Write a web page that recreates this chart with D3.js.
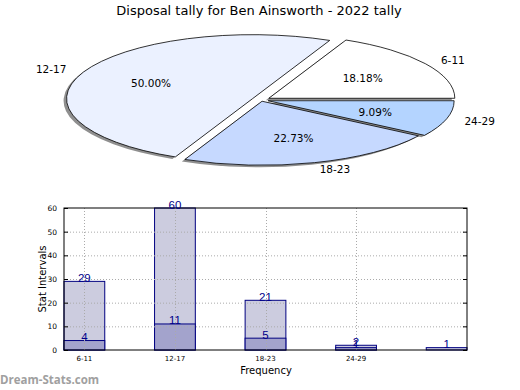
<!DOCTYPE html>
<html><head><meta charset="utf-8">
<script src="https://cdn.jsdelivr.net/npm/d3@7"></script>
<style>body{margin:0;background:#fff}svg{display:block;font-family:"DejaVu Sans",sans-serif}</style>
</head><body><svg id="c" width="520" height="390"></svg>
<script>
const title = "Disposal tally for Ben Ainsworth - 2022 tally";
const pieLabels = ["6-11","12-17","18-23","24-29"];
const pieValues = [4, 11, 5, 2];
const pieExplode = [0.05, 0.05, 0.02, 0.04];
const pieColors = ["#ffffff","#ebf1ff","#c6d9ff","#b4d4ff"];
const categories = ["6-11","12-17","18-23","24-29",""];
const totalValues = [29, 60, 21, 2, 1];
const lowerValues = [4, 11, 5, 1, null];
const yTicks = [0,10,20,30,40,50,60];

const svg = d3.select("#c");
svg.append("text").attr("x",259).attr("y",15).attr("text-anchor","middle")
  .attr("font-size",13).attr("fill","#000").text(title);

// ---- Pie ----
const cx = 261, cy = 100, rx = 186, ry = 64;
const total = d3.sum(pieValues);
let acc = 0;
const slices = pieValues.map((v,i)=>{
  const t1 = acc/total*2*Math.PI; acc += v; const t2 = acc/total*2*Math.PI;
  const mid = (t1+t2)/2;
  const ox = cx + pieExplode[i]*rx*Math.cos(mid);
  const oy = cy - pieExplode[i]*ry*Math.sin(mid);
  return {i, v, t1, t2, mid, ox, oy};
});
const arc = d3.arc().innerRadius(0).outerRadius(1);
const pg = svg.append("g");
pg.selectAll("path.sh").data(slices).join("path").attr("class","sh")
  .attr("transform",d=>`translate(${d.ox-3},${d.oy+2}) scale(${rx},${ry})`)
  .attr("d",d=>arc({startAngle:Math.PI/2-d.t2,endAngle:Math.PI/2-d.t1}))
  .attr("fill","#6a6a6a").attr("opacity",0.75);
pg.selectAll("path.sl").data(slices).join("path").attr("class","sl")
  .attr("transform",d=>`translate(${d.ox},${d.oy}) scale(${rx},${ry})`)
  .attr("d",d=>arc({startAngle:Math.PI/2-d.t2,endAngle:Math.PI/2-d.t1}))
  .attr("fill",d=>pieColors[d.i]).attr("stroke","#000").attr("stroke-width",0.8)
  .attr("vector-effect","non-scaling-stroke");
pg.selectAll("text.lab").data(slices).join("text").attr("class","lab")
  .attr("x",d=>d.ox+1.1*rx*Math.cos(d.mid))
  .attr("y",d=>d.oy-1.1*ry*Math.sin(d.mid)+4)
  .attr("text-anchor",d=>Math.cos(d.mid)>=0?"start":"end")
  .attr("font-size",10.5).text(d=>pieLabels[d.i]);
pg.selectAll("text.pct").data(slices).join("text").attr("class","pct")
  .attr("x",d=>d.ox+0.6*rx*Math.cos(d.mid))
  .attr("y",d=>d.oy-0.6*ry*Math.sin(d.mid)+4)
  .attr("text-anchor","middle").attr("font-size",10.5)
  .text(d=>(d.v/total*100).toFixed(2)+"%");

// ---- Bars ----
const L=64,R=467,T=208,B=350;
const x = d3.scaleBand().domain(d3.range(categories.length)).range([L,R]).paddingInner(0.55).paddingOuter(0);
const y = d3.scaleLinear().domain([0,60]).range([B,T]);
const bg = svg.append("g");
bg.selectAll("rect.tot").data(totalValues).join("rect").attr("class","tot")
  .attr("x",(d,i)=>x(i)).attr("width",x.bandwidth())
  .attr("y",d=>y(d)).attr("height",d=>B-y(d))
  .attr("fill","#ccccdf").attr("stroke","#000080").attr("stroke-width",1);
bg.selectAll("rect.low").data(lowerValues.map((v,i)=>({v,i})).filter(d=>d.v!=null)).join("rect").attr("class","low")
  .attr("x",d=>x(d.i)).attr("width",x.bandwidth())
  .attr("y",d=>y(d.v)).attr("height",d=>B-y(d.v))
  .attr("fill","#a3a3cc").attr("stroke","#000080").attr("stroke-width",1);
const gg = svg.append("g").attr("stroke","#aaa").attr("stroke-dasharray","1,2").attr("stroke-width",1);
yTicks.slice(1,-1).forEach(t=>gg.append("line").attr("x1",L).attr("x2",R).attr("y1",y(t)+0.5).attr("y2",y(t)+0.5));
categories.forEach((c,i)=>{ if(c) gg.append("line").attr("x1",Math.round(x(i)+x.bandwidth()/2)+0.5).attr("x2",Math.round(x(i)+x.bandwidth()/2)+0.5).attr("y1",T).attr("y2",B); });
svg.append("rect").attr("x",L).attr("y",T).attr("width",R-L).attr("height",B-T).attr("fill","none").attr("stroke","#000").attr("stroke-width",1);
const ya = d3.axisLeft(y).tickValues(yTicks).tickSize(-4).tickPadding(7);
const ga = svg.append("g").attr("transform",`translate(${L},0)`).call(ya);
ga.select(".domain").remove();
ga.selectAll("text").attr("font-size",7.5).attr("font-family","DejaVu Sans");
const yr = d3.axisRight(y).tickValues(yTicks).tickSize(-4).tickFormat("");
const gr = svg.append("g").attr("transform",`translate(${R},0)`).call(yr);
gr.select(".domain").remove();
const xa = d3.axisBottom(x).tickFormat(i=>categories[i]).tickSize(0).tickPadding(6);
const gx = svg.append("g").attr("transform",`translate(0,${B})`).call(xa);
gx.select(".domain").remove();
gx.selectAll("text").attr("font-size",7).attr("font-family","DejaVu Sans");
const vl = svg.append("g").attr("fill","#00008b").attr("font-size",11.5).attr("font-family","Liberation Sans, Arial, sans-serif").attr("text-anchor","middle");
totalValues.forEach((v,i)=>vl.append("text").attr("x",x(i)+x.bandwidth()/2).attr("y",y(v)+0.5).text(v));
lowerValues.forEach((v,i)=>{ if(v!=null) vl.append("text").attr("x",x(i)+x.bandwidth()/2).attr("y",y(v)+0.5).text(v); });
svg.append("text").attr("x",266).attr("y",374).attr("text-anchor","middle").attr("font-size",10).text("Frequency");
svg.append("text").attr("transform","translate(46,279) rotate(-90)").attr("text-anchor","middle").attr("font-size",10).text("Stat Intervals");
svg.append("text").attr("x",0).attr("y",384).attr("font-size",11.5).attr("font-weight","bold").attr("fill","#a0a0a0").attr("font-family","Open Sans, DejaVu Sans").text("Dream-Stats.com");
</script></body></html>
